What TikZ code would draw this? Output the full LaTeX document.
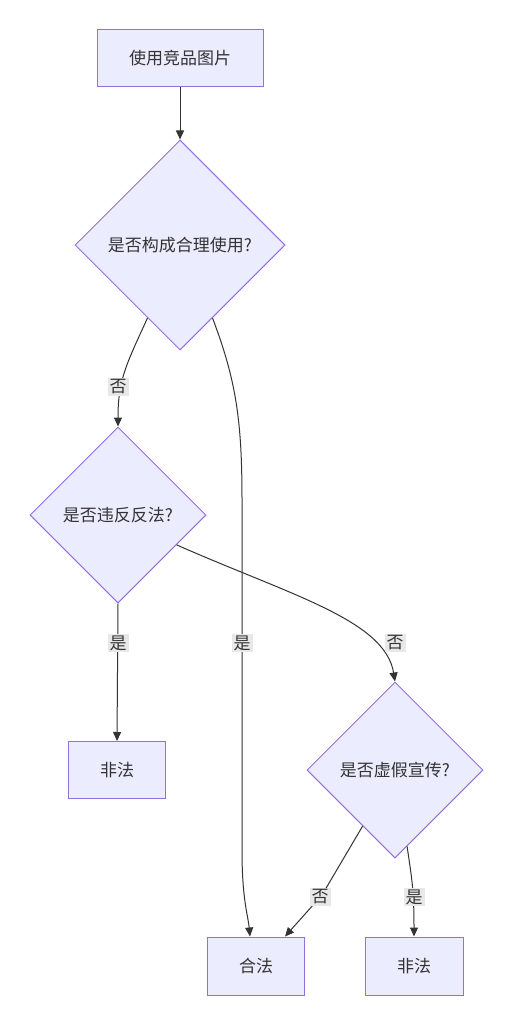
\documentclass[tikz,border=0pt]{standalone}
\usepackage{fontspec}
\setmainfont{Noto Sans CJK SC}
\usetikzlibrary{shapes.geometric,arrows.meta}
\definecolor{nodefill}{HTML}{ECECFF}
\definecolor{nodestroke}{HTML}{9370DB}
\definecolor{txt}{HTML}{333333}
\definecolor{lblbg}{HTML}{E8E8E8}
\tikzset{
  box/.style={draw=nodestroke, fill=nodefill, line width=1pt, minimum height=57pt, inner sep=0pt, text=txt, font=\fontsize{17pt}{20pt}\selectfont},
  dia/.style={diamond, aspect=1, draw=nodestroke, fill=nodefill, line width=1pt, inner sep=0pt, text=txt, font=\fontsize{17pt}{20pt}\selectfont},
  edge/.style={draw=txt, line width=1pt, -{Triangle[length=9pt,width=8pt]}},
  lbl/.style={fill=lblbg, text=txt, inner sep=2pt, font=\fontsize{17pt}{20pt}\selectfont}
}
\begin{document}
\begin{tikzpicture}[x=1pt,y=-1pt]
\useasboundingbox[fill=white] (0,0) rectangle (513,1024);
\node[box, minimum width=166pt] (A) at (180,58) {使用竞品图片};
\node[dia, minimum width=210pt, minimum height=210pt] (B) at (180,245) {是否构成合理使用?};
\node[dia, minimum width=176pt, minimum height=176pt] (C) at (118,515) {是否违反反法?};
\node[box, minimum width=97pt] (D) at (117,770) {非法};
\node[dia, minimum width=176pt, minimum height=176pt] (E) at (395,770) {是否虚假宣传?};
\node[box, minimum width=97pt, minimum height=58pt] (F) at (256,966) {合法};
\node[box, minimum width=98pt, minimum height=58pt] (G) at (414,966) {非法};

\draw[edge] (A.south) -- (B.north);
\draw[edge] (B.246) .. controls (126,365) and (118,380) .. (C.north);
\draw[edge] (B.294) .. controls (236,380) and (242,420) .. (242,500) -- (242,850) .. controls (242,900) and (248,915) .. ([xshift=-6pt]F.north);
\draw[edge] (C.south) -- (D.north);
\draw[edge] (C.333) .. controls (290,595) and (385,620) .. (E.north);
\draw[edge] (E.240) -- (322,895) -- ([xshift=29pt]F.north);
\draw[edge] (E.279) .. controls (412,880) and (414,890) .. (G.north);

\node[lbl] (l1) at (118,387) {否};
\node[lbl] (l2) at (242,643) {是};
\node[lbl] (l3) at (118,643) {是};
\node[lbl] (l4) at (395,643) {否};
\node[lbl] (l5) at (320,897) {否};
\node[lbl] (l6) at (414,897) {是};
\end{tikzpicture}
\end{document}
